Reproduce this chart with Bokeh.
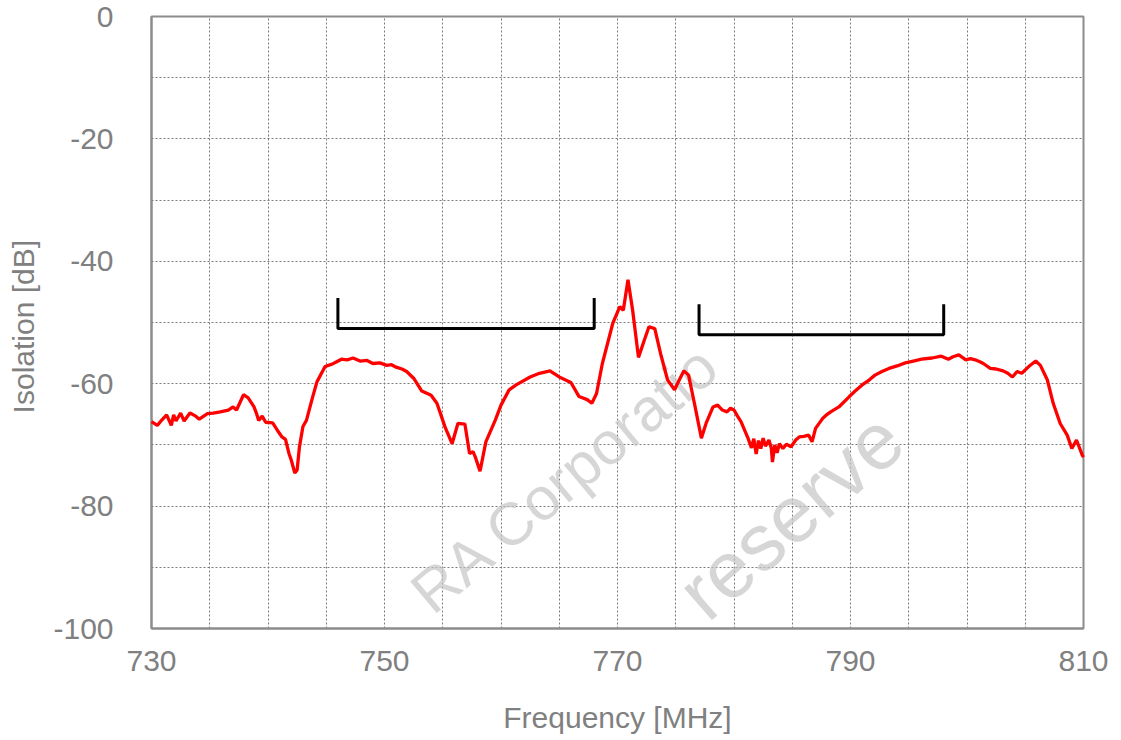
from bokeh.plotting import figure
from bokeh.models import Range1d, FixedTicker, Label, ColumnDataSource
from bokeh.embed import file_html
from bokeh.resources import INLINE

# ---- data ----
freq = [730.0, 730.5, 730.9, 731.3, 731.7, 731.9, 732.1, 732.5, 732.8, 733.3, 733.8, 734.1,
        734.8, 735.3, 735.9, 736.6, 737.0, 737.3, 737.9, 738.3, 738.8, 739.0, 739.2, 739.5,
        739.8, 740.4, 740.8, 741.2, 741.5, 741.8, 742.0, 742.3, 742.5, 742.7, 743.0, 743.3,
        743.8, 744.2, 744.9, 745.5, 745.9, 746.3, 746.8, 747.3, 747.9, 748.5, 749.0, 749.6,
        750.2, 750.6, 751.0, 751.5, 751.9, 752.5, 753.2, 754.0, 754.5, 755.2, 755.8, 756.3,
        756.9, 757.3, 757.6, 757.8, 758.2, 758.7, 759.5, 760.0, 760.7, 761.3, 762.5, 763.3,
        764.2, 765.0, 766.0, 766.7, 767.4, 767.8, 768.2, 768.7, 769.6, 770.2, 770.5, 770.9,
        771.3, 771.8, 772.3, 772.7, 773.2, 773.7, 774.3, 774.9, 775.3, 775.7, 776.1, 776.6,
        777.2, 777.6, 778.2, 778.6, 779.0, 779.4, 779.7, 780.0, 780.3, 780.6, 781.2, 781.5,
        781.7, 781.9, 782.1, 782.3, 782.5, 782.7, 783.0, 783.2, 783.3, 783.5, 783.7, 783.9,
        784.2, 784.5, 784.9, 785.3, 785.6, 786.0, 786.4, 786.7, 787.0, 787.6, 788.0, 788.3,
        789.0, 789.9, 790.4, 791.0, 791.6, 792.1, 792.7, 793.3, 794.0, 794.7, 795.4, 796.1,
        797.0, 797.8, 798.4, 798.8, 799.3, 799.9, 800.3, 800.7, 801.1, 801.4, 802.0, 802.5,
        803.1, 803.5, 803.9, 804.3, 804.7, 805.3, 805.9, 806.3, 806.9, 807.4, 808.0, 808.6,
        809.0, 809.4, 809.9, 810.0]
isolation = [-66.2, -66.8, -65.9, -65.1, -66.8, -65.1, -66.1, -64.8, -66.1, -64.8, -65.3, -65.8,
             -64.9, -64.8, -64.6, -64.3, -63.8, -64.3, -61.8, -62.3, -63.8, -64.8, -66.0, -65.3,
             -66.3, -66.4, -67.6, -68.7, -69.1, -71.4, -72.5, -74.6, -74.1, -70.3, -67.0, -66.0,
             -62.4, -59.7, -57.2, -56.8, -56.4, -56.0, -56.1, -55.8, -56.3, -56.2, -56.7, -56.6,
             -57.0, -56.9, -57.3, -57.6, -58.0, -59.1, -61.2, -61.9, -63.2, -67.1, -69.8, -66.5,
             -66.6, -71.4, -71.1, -72.0, -74.3, -69.5, -66.0, -63.5, -61.0, -60.2, -58.9, -58.3,
             -57.9, -58.9, -59.8, -62.1, -62.6, -63.2, -61.6, -56.7, -50.1, -47.4, -48.0, -43.0,
             -48.0, -55.7, -52.9, -50.7, -51.0, -55.1, -59.4, -61.0, -59.4, -57.9, -58.6, -63.2,
             -68.9, -66.5, -63.8, -63.5, -64.3, -64.6, -64.0, -64.3, -65.3, -66.2, -68.9, -70.5,
             -69.0, -71.5, -69.3, -70.6, -68.9, -70.2, -69.2, -70.5, -72.8, -70.0, -71.3, -69.8,
             -70.6, -69.9, -70.3, -69.2, -68.7, -68.6, -68.4, -69.5, -67.3, -65.7, -65.0, -64.6,
             -63.8, -62.1, -61.2, -60.2, -59.4, -58.6, -58.0, -57.5, -57.1, -56.6, -56.3, -56.0,
             -55.8, -55.5, -56.0, -55.6, -55.3, -56.1, -55.9, -56.1, -56.4, -56.7, -57.5, -57.6,
             -57.9, -58.3, -58.9, -58.0, -58.3, -57.2, -56.3, -57.0, -59.4, -63.2, -66.5, -68.4,
             -70.6, -69.2, -71.7, -72.0]

band1_x = [746, 746, 768, 768]
band1_y = [-46, -51, -51, -46]
band2_x = [777, 777, 798, 798]
band2_y = [-47, -52, -52, -47]

x_tick_labels = [730, 750, 770, 790, 810]
y_tick_labels = [-100, -80, -60, -40, -20, 0]
x_grid = list(range(730, 811, 5))
y_grid = list(range(-100, 1, 10))

GRAY = "#808080"
FONT = "Liberation Sans"

p = figure(width=1121, height=740, output_backend="svg", toolbar_location=None,
           x_range=Range1d(730, 810), y_range=Range1d(-100, 0),
           min_border_left=151, min_border_right=38, min_border_top=16, min_border_bottom=112,
           x_axis_label="Frequency [MHz]", y_axis_label="Isolation  [dB]")
p.background_fill_color = "white"
p.border_fill_color = "white"
p.outline_line_color = "#8c8c8c"
p.outline_line_width = 2

for ax in (p.xaxis[0], p.yaxis[0]):
    ax.axis_line_color = "#8c8c8c"
    ax.axis_line_width = 2
    ax.major_tick_line_color = None
    ax.minor_tick_line_color = None
    ax.major_tick_out = 0
    ax.major_tick_in = 0
    ax.major_label_text_font = FONT
    ax.major_label_text_font_size = "30px"
    ax.major_label_text_color = GRAY
    ax.axis_label_text_font = FONT
    ax.axis_label_text_font_size = "30px"
    ax.axis_label_text_font_style = "normal"
    ax.axis_label_text_color = GRAY

p.xaxis[0].ticker = FixedTicker(ticks=x_tick_labels)
p.yaxis[0].ticker = FixedTicker(ticks=y_tick_labels)
p.xaxis[0].major_label_overrides = {v: str(v) for v in x_tick_labels}
p.yaxis[0].major_label_overrides = {v: str(v) for v in y_tick_labels}
p.xaxis[0].major_label_standoff = 22
p.xaxis[0].axis_label_standoff = 27
p.yaxis[0].major_label_standoff = 38
p.yaxis[0].axis_label_standoff = 10

p.xgrid[0].ticker = FixedTicker(ticks=x_grid)
p.ygrid[0].ticker = FixedTicker(ticks=y_grid)
for g in (p.xgrid[0], p.ygrid[0]):
    g.grid_line_color = "#7a7a7a"
    g.grid_line_dash = "2 2"
    g.grid_line_width = 1

# watermark (faint), kept inside the plot frame
def dx(px):
    return 730 + (px - 151) * 80 / 932

def dy(py):
    return -(py - 16) * 100 / 612

wm1 = Label(x=dx(565), y=dy(478), text="RA Corporatio", angle=0.698,
            text_align="center", text_baseline="middle", text_font=FONT,
            text_font_size="60px", text_color="#c4c4c4", text_alpha=0.7, level="annotation")
wm2 = Label(x=dx(790), y=dy(515), text="reserve", angle=0.715,
            text_align="center", text_baseline="middle", text_font=FONT,
            text_font_size="80px", text_color="#c4c4c4", text_alpha=0.7, level="annotation")
p.add_layout(wm1)
p.add_layout(wm2)

src = ColumnDataSource(data=dict(freq=freq, iso=isolation))
r1 = p.line("freq", "iso", source=src, line_color="#ff0000", line_width=3.3)
r2 = p.line(band1_x, band1_y, line_color="black", line_width=3)
r3 = p.line(band2_x, band2_y, line_color="black", line_width=3)
for r in (r1, r2, r3):
    r.level = "overlay"

open("out.html", "w").write(file_html(p, INLINE))
